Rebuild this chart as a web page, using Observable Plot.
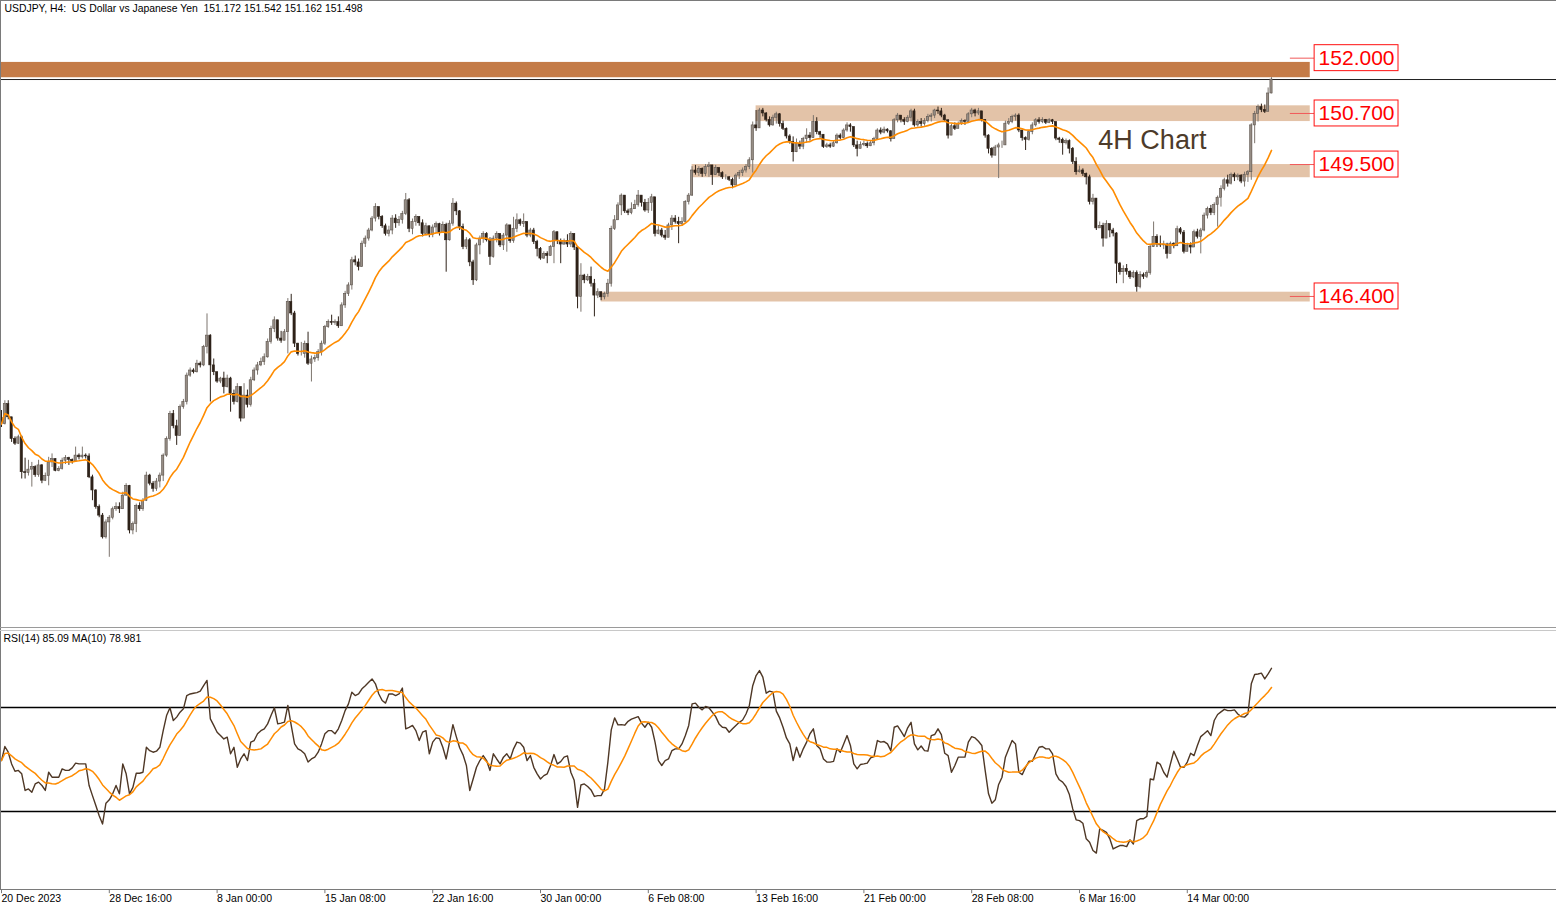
<!DOCTYPE html>
<html><head><meta charset="utf-8">
<script src="https://cdn.jsdelivr.net/npm/d3@7"></script>
<script src="https://cdn.jsdelivr.net/npm/@observablehq/plot@0.6"></script>
<style>
body{margin:0;background:#fff;}
#wrap{position:relative;width:1556px;height:909px;overflow:hidden;background:#fff;font-family:"Liberation Sans",Arial,sans-serif;}
#main{position:absolute;left:0;top:0;}
#rsi{position:absolute;left:0;top:628px;}
.edge{position:absolute;background:#7a7a7a;}
</style></head><body><div id="wrap"><div id="main"></div><div id="rsi"></div>
<div class="edge" style="left:0;top:0;width:1px;height:889px"></div>
<div class="edge" style="left:0;top:0;width:1556px;height:1px"></div>
<div class="edge" style="left:0;top:627px;width:1556px;height:1px;background:#9a9a9a"></div>
<div class="edge" style="left:0;top:630px;width:1556px;height:1px;background:#c8c8c8"></div>
</div>
<script>
// ---- data ----
const firstOpen = 143.55;
const closes = [
143.40,143.87,143.56,143.05,142.94,143.09,142.27,142.25,142.33,142.39,
142.20,142.43,142.07,142.18,142.50,142.58,142.30,142.35,142.54,142.60,
142.56,142.52,142.66,142.62,142.66,142.64,142.15,141.84,141.45,141.25,
140.74,141.09,141.20,141.40,141.45,141.40,141.72,141.95,140.90,141.05,
141.48,141.40,141.60,142.19,142.00,141.88,142.05,142.19,142.66,143.05,
143.64,143.35,143.12,143.80,143.92,144.54,144.66,144.62,144.82,144.78,
145.21,145.48,144.78,144.62,144.40,144.47,144.27,144.47,144.11,143.92,
144.27,143.53,144.07,143.85,144.43,144.66,144.78,144.86,144.97,145.33,
145.64,145.84,145.41,145.36,145.56,146.27,146.00,145.29,145.05,145.05,
145.28,144.82,144.92,144.95,145.09,145.29,145.68,145.80,145.78,145.80,
145.70,146.19,146.46,146.66,147.25,147.20,147.09,147.64,147.76,147.95,
148.23,148.50,148.27,148.05,147.87,147.95,148.23,148.12,148.20,148.34,
148.66,147.99,148.15,148.27,148.12,147.87,148.05,147.85,148.02,148.10,
147.90,148.08,147.72,148.11,148.58,148.40,148.03,147.56,147.72,147.20,
146.78,147.60,147.76,147.87,147.72,147.33,147.76,147.87,147.60,147.83,
148.07,147.70,147.99,148.19,148.10,148.15,147.83,147.95,147.68,147.52,
147.29,147.40,147.35,147.56,147.91,147.70,147.62,147.70,147.62,147.87,
147.55,146.39,146.89,146.78,146.86,146.70,146.42,146.50,146.38,146.46,
146.70,147.99,148.19,148.54,148.77,148.40,148.36,148.45,148.55,148.77,
148.60,148.42,148.60,148.73,147.87,147.95,147.83,147.78,148.07,148.23,
148.15,148.10,148.15,148.62,148.77,149.36,149.30,149.40,149.28,149.44,
149.48,149.25,149.42,149.30,149.20,149.20,149.14,149.01,149.24,149.30,
149.36,149.44,149.60,150.42,150.35,150.77,150.70,150.55,150.42,150.60,
150.68,150.45,150.34,150.16,150.03,149.79,149.98,149.92,150.10,150.18,
150.12,150.50,150.26,150.20,149.91,149.95,149.92,150.00,150.18,150.12,
150.30,150.42,150.38,149.95,149.87,149.96,149.98,149.93,150.00,150.10,
150.30,150.25,150.32,150.28,150.10,150.54,150.65,150.55,150.50,150.60,
150.75,150.42,150.50,150.45,150.52,150.62,150.65,150.77,150.75,150.65,
150.54,150.18,150.40,150.34,150.45,150.52,150.50,150.68,150.77,150.70,
150.75,150.55,150.18,149.87,149.71,149.90,149.95,149.95,150.46,150.50,
150.62,150.65,150.30,150.12,150.08,150.26,150.42,150.54,150.50,150.55,
150.48,150.54,150.50,150.11,150.08,150.00,150.05,149.87,149.56,149.32,
149.36,149.28,149.20,148.62,148.70,148.00,148.06,147.76,148.10,147.95,
147.88,147.17,146.97,147.05,146.98,146.85,146.95,146.62,146.90,146.86,
146.95,147.56,147.80,147.62,147.60,147.62,147.40,147.64,147.58,147.98,
147.90,147.45,147.60,147.55,147.91,147.80,147.95,148.30,148.46,148.36,
148.55,148.72,148.93,149.13,149.05,149.26,149.20,149.24,149.10,149.26,
149.32,150.42,150.69,150.85,150.78,150.74,151.17,151.498];
const highs = [
143.72,143.95,143.95,143.56,143.10,143.14,143.12,142.60,142.55,142.50,
142.42,142.55,142.45,142.25,142.62,142.70,142.50,142.40,142.60,142.66,
142.62,142.58,142.86,142.70,142.86,142.70,142.70,142.20,141.86,141.50,
141.30,141.15,141.25,141.45,141.55,141.55,141.80,142.00,141.96,141.10,
141.52,141.55,141.65,142.27,142.22,142.05,142.12,142.25,142.70,143.10,
143.70,143.72,143.49,143.85,143.98,144.60,144.72,144.70,144.90,144.86,
145.25,145.99,145.50,144.93,144.56,144.50,144.62,144.55,144.50,144.20,
144.35,144.05,144.35,144.20,144.50,144.72,144.85,144.95,145.05,145.40,
145.70,145.92,145.80,145.58,145.62,146.35,146.45,146.05,145.30,145.32,
145.35,145.56,145.00,145.02,145.15,145.35,145.72,145.85,145.96,145.85,
145.92,146.25,146.52,146.72,147.32,147.35,147.28,147.70,147.82,148.00,
148.28,148.58,148.45,148.30,148.10,148.05,148.30,148.32,148.28,148.40,
148.82,148.70,148.22,148.32,148.25,148.20,148.12,148.00,148.08,148.15,
148.12,148.15,148.12,148.18,148.70,148.62,148.42,148.10,147.78,147.76,
147.25,147.65,147.82,147.92,147.90,147.78,147.82,147.92,147.85,147.88,
148.11,148.05,148.26,148.34,148.22,148.34,148.15,148.00,148.00,147.72,
147.55,147.45,147.45,147.60,147.95,147.88,147.75,147.75,147.85,147.92,
147.70,147.40,147.17,146.92,146.92,147.09,146.80,146.58,146.50,146.50,
146.80,148.05,148.30,148.60,148.81,148.60,148.45,148.60,148.66,148.89,
148.75,148.68,148.70,148.80,148.70,148.05,148.00,147.95,148.12,148.30,
148.30,148.26,148.25,148.65,148.82,149.45,149.48,149.45,149.42,149.50,
149.55,149.46,149.48,149.40,149.33,149.26,149.22,149.18,149.28,149.36,
149.42,149.50,149.66,150.50,150.77,150.82,150.82,150.72,150.62,150.66,
150.73,150.70,150.52,150.36,150.20,150.15,150.10,150.05,150.14,150.34,
150.25,150.65,150.60,150.28,150.12,150.00,150.00,150.05,150.22,150.22,
150.34,150.48,150.46,150.30,150.05,150.03,150.05,150.03,150.05,150.14,
150.34,150.36,150.38,150.34,150.30,150.58,150.70,150.65,150.60,150.65,
150.80,150.80,150.55,150.58,150.58,150.68,150.70,150.80,150.85,150.82,
150.68,150.55,150.45,150.48,150.50,150.57,150.55,150.72,150.82,150.80,
150.82,150.72,150.50,150.20,149.90,149.95,150.00,150.05,150.52,150.58,
150.66,150.69,150.69,150.20,150.15,150.30,150.48,150.58,150.60,150.60,
150.56,150.58,150.56,150.50,150.14,150.12,150.10,150.08,149.90,149.66,
149.46,149.40,149.30,149.25,148.80,148.70,148.15,148.12,148.18,148.10,
148.00,147.90,147.20,147.12,147.15,147.00,147.00,147.00,146.98,146.95,
147.00,147.60,148.15,147.85,147.82,147.70,147.65,147.68,147.66,148.05,
148.02,147.95,147.65,147.66,147.96,147.98,148.00,148.36,148.50,148.54,
148.60,148.76,149.00,149.18,149.25,149.30,149.30,149.28,149.26,149.32,
149.36,150.46,150.75,150.90,150.92,150.90,151.30,151.542];
const lows = [
143.32,143.38,143.50,142.97,142.90,142.92,142.11,142.11,142.18,141.92,
142.15,142.15,142.00,142.05,141.95,142.38,142.28,142.28,142.32,142.45,
142.43,142.46,142.50,142.56,142.58,142.58,142.12,141.60,141.40,141.20,
140.70,140.70,140.27,141.15,141.35,141.30,141.40,141.70,140.82,140.80,
140.85,141.35,141.35,141.58,141.95,141.80,141.82,141.90,142.05,142.62,
143.00,143.29,142.90,143.25,143.75,143.85,144.50,144.58,144.60,144.72,
144.75,145.05,143.92,144.54,144.36,144.35,144.11,144.25,143.68,143.85,
143.90,143.45,143.75,143.78,143.80,144.40,144.55,144.75,144.78,144.95,
145.28,145.55,145.35,145.30,145.50,145.05,145.95,145.20,145.00,145.00,
144.95,144.78,144.39,144.85,144.88,145.00,145.25,145.65,145.72,145.72,
145.65,145.70,146.12,146.40,146.55,147.12,147.00,147.10,147.55,147.70,
147.92,148.15,148.20,148.00,147.82,147.80,147.85,148.00,148.05,148.10,
148.30,147.90,147.85,148.05,148.05,147.80,147.82,147.78,147.78,147.90,
147.82,147.88,146.97,147.70,148.05,148.30,147.95,147.50,147.50,147.10,
146.66,146.75,147.38,147.65,147.68,147.13,147.30,147.66,147.55,147.48,
147.44,147.65,147.65,147.90,148.05,148.02,147.78,147.78,147.62,147.33,
147.25,147.27,147.17,147.35,147.17,147.62,147.17,147.60,147.55,147.55,
147.48,146.11,146.03,146.70,146.75,146.62,145.92,146.35,146.30,146.32,
146.38,146.62,147.95,148.25,148.30,148.35,148.30,148.32,148.45,148.50,
148.50,148.38,148.35,148.40,147.80,147.85,147.78,147.72,147.80,147.95,
148.10,147.64,148.05,148.25,148.55,148.75,149.25,149.22,149.20,149.22,
149.20,149.01,149.30,149.22,149.15,149.14,149.10,148.93,149.05,149.15,
149.22,149.30,149.38,149.30,150.28,150.55,150.62,150.50,150.38,150.40,
150.45,150.38,150.30,150.10,149.98,149.56,149.78,149.85,149.85,150.00,
150.05,150.15,150.20,150.12,149.88,149.88,149.88,149.90,149.98,150.08,
150.10,150.26,150.26,149.90,149.68,149.88,149.92,149.88,149.92,149.94,
150.08,150.20,150.22,150.24,150.03,150.16,150.48,150.48,150.42,150.48,
150.50,150.38,150.38,150.38,150.40,150.48,150.50,150.58,150.68,150.60,
150.50,150.10,150.22,150.30,150.35,150.42,150.42,150.50,150.60,150.62,
150.65,150.50,150.12,149.75,149.65,149.70,149.17,149.88,149.95,150.42,
150.46,150.52,150.25,150.05,149.83,150.05,150.20,150.38,150.45,150.46,
150.44,150.46,150.44,150.06,150.00,149.72,149.96,149.75,149.50,149.25,
149.30,149.22,149.02,148.55,148.55,147.95,148.00,147.56,147.95,147.78,
147.80,146.70,146.90,146.70,146.90,146.80,146.82,146.50,146.58,146.80,
146.82,146.90,147.55,147.55,147.55,147.50,147.28,147.45,147.52,147.60,
147.85,147.40,147.48,147.40,147.60,147.75,147.40,147.92,148.22,148.30,
148.30,148.03,148.50,148.88,148.97,149.02,149.10,149.12,149.05,148.97,
149.08,149.13,149.99,150.50,150.72,150.70,150.80,151.162];
const rsiValues = [
49.6,55.0,52.8,48.3,45.5,45.8,44.5,38.1,38.7,37.4,
40.6,41.3,40.0,38.1,45.1,43.2,43.2,43.2,46.4,45.8,
45.8,46.8,48.6,48.3,48.3,48.3,40.0,36.1,32.3,28.4,
25.2,33.2,34.5,36.8,40.0,36.8,48.3,44.5,36.8,39.3,
44.7,44.7,45.1,54.7,53.4,52.8,53.2,54.7,61.1,66.9,
69.9,65.0,66.3,68.2,69.5,74.6,75.2,75.5,75.7,76.3,
78.4,80.4,65.6,63.1,60.5,59.2,57.9,58.6,52.2,54.7,
47.0,50.2,52.2,49.6,56.7,57.3,59.9,61.1,61.8,63.7,
66.9,69.9,63.7,64.0,64.4,70.8,63.1,56.0,54.1,53.4,
52.2,49.0,50.2,50.9,52.8,56.0,59.9,61.1,61.1,59.9,
61.8,65.0,68.8,71.4,75.9,74.6,75.2,77.2,78.4,79.7,
81.0,79.1,75.2,72.7,71.7,75.2,75.2,74.6,75.2,77.5,
61.8,62.4,63.1,61.1,57.3,60.5,61.1,52.2,56.7,58.3,
58.1,54.7,50.2,56.7,63.4,58.8,54.5,51.8,47.7,38.1,
42.5,47.0,49.6,51.5,49.6,45.8,52.2,50.2,48.3,50.9,
52.2,50.2,54.1,56.7,56.3,54.7,49.6,51.5,47.0,44.5,
42.5,43.8,44.5,47.7,51.9,48.3,49.2,50.9,51.4,45.1,
42.0,31.6,40.2,40.6,39.6,38.3,35.8,36.1,36.1,38.7,
49.0,61.4,66.0,63.3,63.4,63.2,64.7,65.5,66.0,66.5,
64.0,62.4,64.3,62.4,56.7,49.6,47.7,49.6,50.2,53.4,
54.1,54.1,56.0,59.2,63.1,71.4,71.7,70.1,69.1,70.4,
69.9,68.2,66.5,63.7,62.4,62.2,60.5,61.8,63.1,64.3,
65.2,67.5,70.8,78.4,82.3,84.2,81.7,75.5,76.3,75.9,
68.6,66.0,62.4,58.3,56.0,49.6,54.7,50.9,54.1,56.7,
59.9,61.8,55.4,54.1,50.2,49.0,49.0,49.3,54.1,52.8,
56.0,59.2,55.4,48.3,46.4,48.1,48.3,48.6,50.6,51.1,
57.3,56.7,56.9,56.0,53.4,62.4,62.9,60.9,58.8,62.2,
64.3,56.0,53.7,55.2,53.4,53.2,59.2,59.6,61.8,59.6,
52.4,51.5,45.1,47.7,50.9,50.9,50.9,56.7,58.8,58.3,
57.0,55.4,45.8,36.8,33.2,34.5,40.4,43.2,50.9,54.1,
57.3,56.0,45.1,44.2,47.0,49.3,49.3,52.2,54.7,55.0,
54.1,54.1,52.2,44.5,42.2,41.3,39.6,36.5,31.0,26.8,
26.5,25.5,19.5,18.2,15.0,14.0,23.3,22.7,22.0,19.5,
15.6,16.3,16.9,16.9,16.5,19.1,17.5,26.5,27.2,27.2,
28.1,42.5,42.2,49.0,48.1,45.1,43.2,48.3,53.2,50.2,
47.0,47.0,49.0,52.4,51.5,55.4,58.8,59.9,61.1,59.2,
65.0,67.3,68.3,69.3,68.8,68.8,69.1,67.5,66.5,66.3,
67.5,79.1,82.7,82.9,83.2,81.0,82.9,85.09];
const tickBars = [0,32,64,96,128,160,192,224,256,288,320,352];
const tickLabels = ["20 Dec 2023","28 Dec 16:00","8 Jan 00:00","15 Jan 08:00","22 Jan 16:00","30 Jan 00:00","6 Feb 08:00","13 Feb 16:00","21 Feb 00:00","28 Feb 08:00","6 Mar 16:00","14 Mar 00:00"];
const levels = [152.0, 150.7, 149.5, 146.4];
const levelLabels = ["152.000","150.700","149.500","146.400"];
const zoneLow = [151.54, 150.51, 149.19, 146.27];
const zoneHigh = [151.90, 150.88, 149.50, 146.50];
const zoneStartBar = [-0.3, 224, 205, 178];
const zoneStrong = [true, false, false, false];
const bidPrice = 151.498;
const rsiLevels = [70, 30];
const rsiFloor = 0;
const headerText = "USDJPY, H4:  US Dollar vs Japanese Yen  151.172 151.542 151.162 151.498";
const rsiHeaderText = "RSI(14) 85.09 MA(10) 78.981";
const noteText = "4H Chart";
const maPeriod = 20;   // EMA of close
const rsiMaPeriod = 10;

// ---- layout / style ----
const W = 1556;
const X_DOMAIN = [-0.3, 461.6];
const zoneEndBar = 388.5, labelLineBar = 382.6, labelBoxBar1 = 389.8, labelBoxBar2 = 414.7;
const boxHalf = 0.305;
const noteBar = 325.6, notePrice = 150.06;
const FONT = "Liberation Sans, Arial, sans-serif";
const C = {bullBody:"#968d85", bullEdge:"#5c534c", bullWick:"#7d756e", bearBody:"#2e2219", bearWick:"#2e2219",
  zone:"#e3c3a8", zoneStrong:"#c47b47", ma:"#ff8c00", rsi:"#4e3725", label:"#ff1010", labelLine:"#f05a5a"};

const candles = closes.map((c, i) => {
  const o = i === 0 ? firstOpen : closes[i - 1];
  return {i, open: o, close: c, high: Math.max(highs[i], o, c), low: Math.min(lows[i], o, c), up: c >= o};
});
const zones = levels.map((lv, k) => ({start: zoneStartBar[k], low: zoneLow[k], high: zoneHigh[k], color: zoneStrong[k] ? C.zoneStrong : C.zone}));
const rsiData = rsiValues.map((r, i) => ({i, r}));

const emaAlpha = 2 / (maPeriod + 1);
function emaReduce(values) {
  let w = 1, sw = 0, s = 0;
  for (let j = values.length - 1; j >= 0; --j) { s += w * values[j]; sw += w; w *= 1 - emaAlpha; }
  return s / sw;
}

const main = Plot.plot({
  width: W, height: 628, margin: 0,
  style: {fontFamily: FONT, background: "transparent", overflow: "visible"},
  x: {domain: X_DOMAIN, axis: null},
  y: {domain: [138.597, 153.355], axis: null},
  color: {type: "identity"},
  marks: [
    Plot.rect(zones, {x1: "start", x2: () => zoneEndBar, y1: "low", y2: "high", fill: "color"}),
    Plot.ruleY([bidPrice], {stroke: "#202020", strokeWidth: 1}),
    Plot.ruleX(candles, {x: "i", y1: "low", y2: "high", stroke: d => d.up ? C.bullWick : C.bearWick, strokeWidth: 1}),
    Plot.rect(candles, {x1: d => d.i - 0.33, x2: d => d.i + 0.33, y1: "open", y2: "close",
      fill: d => d.up ? C.bullBody : C.bearBody, stroke: d => d.up ? C.bullEdge : C.bearBody, strokeWidth: 0.6}),
    Plot.line(candles, Plot.windowY({k: 60, anchor: "end", reduce: emaReduce}, {x: "i", y: "close", stroke: C.ma, strokeWidth: 1.6})),
    Plot.ruleY(levels, {x1: () => labelLineBar, x2: () => labelBoxBar1, stroke: C.labelLine, strokeWidth: 1}),
    Plot.rect(levels, {x1: () => labelBoxBar1, x2: () => labelBoxBar2, y1: d => d - boxHalf, y2: d => d + boxHalf, fill: "#ffffff", stroke: C.label, strokeWidth: 1}),
    Plot.text(levels, {x: () => (labelBoxBar1 + labelBoxBar2) / 2, y: d => d, text: (d, k) => levelLabels[k], fill: "#ff0000", fontSize: 21, fontFamily: FONT}),
    Plot.text([noteText], {x: () => noteBar, y: () => notePrice, text: d => d, textAnchor: "start", fontSize: 27, fill: "#4d3b2a", fontFamily: FONT}),
    Plot.text([headerText], {frameAnchor: "top-left", dx: 4, dy: 8, lineAnchor: "middle", text: d => d, textAnchor: "start", fontSize: 10.4, fill: "#000", fontFamily: FONT})
  ]
});
document.getElementById("main").appendChild(main);

const rsiPlot = Plot.plot({
  width: W, height: 281, margin: 0,
  style: {fontFamily: FONT, background: "transparent", overflow: "visible"},
  x: {domain: X_DOMAIN, axis: null},
  y: {domain: [-7.69, 100.385], axis: null},
  color: {type: "identity"},
  marks: [
    Plot.ruleY(rsiLevels, {stroke: "#000000", strokeWidth: 1.6}),
    Plot.ruleY([rsiFloor], {stroke: "#7a7a7a", strokeWidth: 1}),
    Plot.line(rsiData, {x: "i", y: "r", stroke: C.rsi, strokeWidth: 1.4}),
    Plot.line(rsiData, Plot.windowY({k: rsiMaPeriod, anchor: "end"}, {x: "i", y: "r", stroke: C.ma, strokeWidth: 1.5})),
    Plot.ruleX(tickBars, {x: d => d, y1: rsiFloor, y2: rsiFloor - 1.6, stroke: "#7a7a7a"}),
    Plot.text(tickBars, {x: d => d, frameAnchor: "bottom", dy: -11, lineAnchor: "middle", textAnchor: "start", text: (d, k) => tickLabels[k], fontSize: 10.5, fill: "#000", fontFamily: FONT}),
    Plot.text([rsiHeaderText], {frameAnchor: "top-left", dx: 3, dy: 10, lineAnchor: "middle", text: d => d, textAnchor: "start", fontSize: 10.5, fill: "#000", fontFamily: FONT})
  ]
});
document.getElementById("rsi").appendChild(rsiPlot);
</script></body></html>
